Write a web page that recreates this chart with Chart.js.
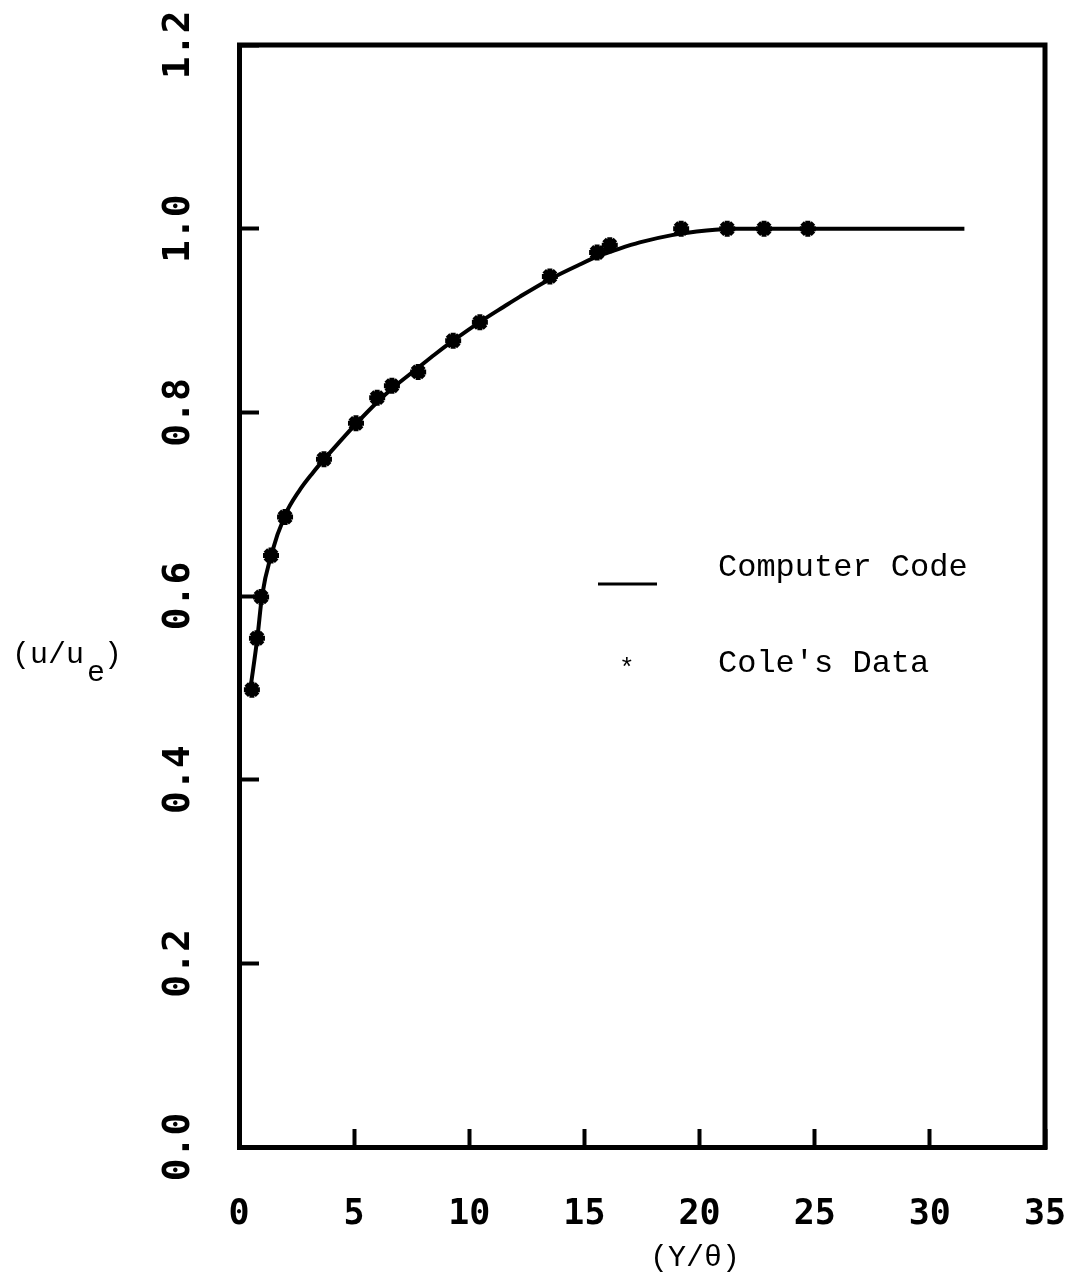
<!DOCTYPE html>
<html>
<head>
<meta charset="utf-8">
<script src="https://cdn.jsdelivr.net/npm/chart.js@4.4.0/dist/chart.umd.min.js"></script>
<style>
  html, body { margin: 0; padding: 0; background: #fff; }
  #wrap { width: 1072px; height: 1277px; }
</style>
</head>
<body>
<div id="wrap"><canvas id="myChart" width="1072" height="1277"></canvas></div>
<script>
// computer code curve, u/ue vs Y/theta
const codeX = [0.5, 0.8, 1.0, 1.4, 2.0, 2.6, 3.2, 3.7, 4.3, 5.1, 6.0, 6.7, 7.8, 8.5, 9.3, 10.5, 11.5, 12.2, 13.5, 14.8, 15.6, 16.5, 17.4, 18.8, 20.3, 21.5, 23, 27, 31.5];
const codeY = [0.50, 0.555, 0.60, 0.645, 0.688, 0.714, 0.734, 0.749, 0.766, 0.788, 0.811, 0.827, 0.849, 0.863, 0.878, 0.899, 0.915, 0.926, 0.945, 0.961, 0.970, 0.978, 0.985, 0.993, 0.998, 1.0, 1.0, 1.0, 1.0];

// Cole's data points
const coleX = [0.56, 0.78, 0.96, 1.39, 2.0, 3.69, 5.08, 6.0, 6.64, 7.78, 9.3, 10.46, 13.5, 15.55, 16.1, 19.2, 21.2, 22.8, 24.7];
const coleY = [0.498, 0.554, 0.599, 0.644, 0.686, 0.749, 0.788, 0.816, 0.829, 0.844, 0.878, 0.898, 0.948, 0.974, 0.982, 1.0, 1.0, 1.0, 1.0];

const xTickLabels = ['0', '5', '10', '15', '20', '25', '30', '35'];
const yTickLabels = ['0.0', '0.2', '0.4', '0.6', '0.8', '1.0', '1.2'];

const typeFont = '"Liberation Mono", "Courier New", monospace';

// extra text + frame, typewriter style
const extras = {
  id: 'extras',
  afterDraw(chart) {
    const ctx = chart.ctx;
    const a = chart.chartArea;
    ctx.save();
    ctx.strokeStyle = '#000';
    ctx.lineWidth = 5;
    ctx.beginPath();
    ctx.moveTo(a.left - 2, a.top);
    ctx.lineTo(a.right, a.top);
    ctx.lineTo(a.right, a.bottom + 2);
    ctx.stroke();

    ctx.fillStyle = '#000';
    ctx.textBaseline = 'alphabetic';
    ctx.font = '32px ' + typeFont;
    ctx.fillText('Computer Code', 718, 576);
    ctx.fillText("Cole's Data", 718, 672);
    ctx.lineWidth = 3;
    ctx.beginPath();
    ctx.moveTo(598, 584);
    ctx.lineTo(657, 584);
    ctx.stroke();
    ctx.font = '26px ' + typeFont;
    ctx.fillText('*', 619, 676);

    // y title with subscript
    ctx.font = '30px ' + typeFont;
    ctx.fillText('(u/u', 12, 663);
    ctx.fillText('e', 87, 681);
    ctx.fillText(')', 104, 663);

    // x title
    ctx.textAlign = 'center';
    ctx.fillText('(Y/\u03B8)', 695, 1266);
    ctx.restore();
  }
};

new Chart(document.getElementById('myChart').getContext('2d'), {
  type: 'scatter',
  data: {
    datasets: [{
      label: 'Computer Code',
      data: codeX.map((x, i) => ({ x: x, y: codeY[i] })),
      showLine: true,
      borderColor: '#000',
      borderWidth: 4,
      pointRadius: 0,
      cubicInterpolationMode: 'monotone'
    }, {
      label: "Cole's Data",
      data: coleX.map((x, i) => ({ x: x, y: coleY[i] })),
      showLine: false,
      pointStyle: 'star',
      pointRadius: 8,
      borderColor: '#000',
      backgroundColor: '#000',
      borderWidth: 5
    }]
  },
  options: {
    responsive: false,
    animation: false,
    devicePixelRatio: 1,
    layout: { padding: { left: 0, top: 45, right: 27, bottom: 0 } },
    plugins: { legend: { display: false }, tooltip: { enabled: false } },
    scales: {
      x: {
        type: 'linear', min: 0, max: 35,
        ticks: {
          stepSize: 5, color: '#000', padding: 65, maxRotation: 0,
          font: { family: 'DejaVu Sans Mono', weight: 'bold', size: 35 },
          callback: (v) => xTickLabels[v / 5]
        },
        grid: { drawOnChartArea: false, drawTicks: true, tickLength: -18, tickWidth: 4, color: '#000' },
        border: { display: true, width: 5, color: '#000' },
        afterFit: (s) => { s.height = 130; s.paddingLeft = 0; s.paddingRight = 0; }
      },
      y: {
        type: 'linear', min: 0, max: 1.2,
        ticks: {
          stepSize: 0.2, color: '#000', padding: 46,
          font: { family: 'DejaVu Sans Mono', weight: 'bold', size: 38 },
          minRotation: 90, maxRotation: 90, crossAlign: 'center',
          callback: (v) => yTickLabels[Math.round(v / 0.2)]
        },
        grid: { drawOnChartArea: false, drawTicks: true, tickLength: -20, tickWidth: 4, color: '#000' },
        border: { display: true, width: 5, color: '#000' },
        afterFit: (s) => { s.width = 239; s.paddingTop = 0; s.paddingBottom = 0; }
      }
    }
  },
  plugins: [extras]
});
</script>
</body>
</html>
